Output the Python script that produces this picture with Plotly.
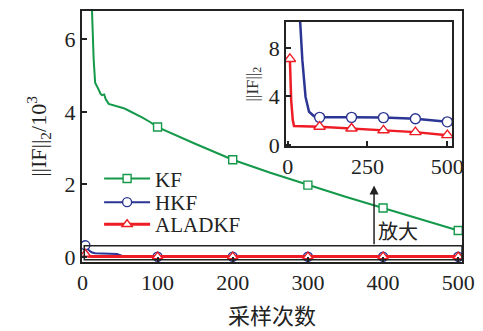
import plotly.graph_objects as go

# ---- data ----
kf_x = [10, 13, 15, 17, 20, 22, 24, 26, 29, 31, 35, 40, 45, 50, 55, 60, 70, 80, 90, 100,
        150, 200, 250, 300, 350, 400, 450, 500]
kf_y = [8.5, 6.6, 5.45, 4.8, 4.7, 4.6, 4.5, 4.46, 4.48, 4.35, 4.22, 4.19, 4.17, 4.14, 4.1, 4.05,
        3.95, 3.84, 3.72, 3.58, 3.12, 2.68, 2.32, 1.98, 1.66, 1.35, 1.05, 0.73]
kf_mx = [100, 200, 300, 400, 500]
kf_my = [3.58, 2.68, 1.98, 1.35, 0.73]

hkf_x = [4, 6, 8, 10, 13, 17, 25, 35, 46, 55, 100, 200, 300, 400, 500]
hkf_y = [0.32, 0.25, 0.2, 0.16, 0.12, 0.1, 0.09, 0.09, 0.08, 0.01, 0.005, 0.005, 0.005, 0.005, 0.005]
hkf_mx = [4, 100, 200, 300, 400, 500]
hkf_my = [0.32, 0.005, 0.005, 0.005, 0.005, 0.005]

ala_x = [4, 8, 12, 100, 200, 300, 400, 500]
ala_y = [0.08, 0.02, 0.01, 0.01, 0.01, 0.01, 0.01, 0.01]
ala_mx = [4, 100, 200, 300, 400, 500]
ala_my = [0.08, 0.01, 0.01, 0.01, 0.01, 0.01]

# inset (zoomed) values
hkf_in_x = [33, 38, 46, 56, 67, 82, 100, 200, 300, 400, 500]
hkf_in_y = [13.0, 10.2, 7.0, 3.96, 2.73, 2.38, 2.27, 2.27, 2.25, 2.15, 1.9]
hkf_in_mx = [100, 200, 300, 400, 500]
hkf_in_my = [2.27, 2.27, 2.25, 2.15, 1.9]

ala_in_x = [7, 11, 16, 20, 100, 200, 300, 400, 500]
ala_in_y = [7.1, 3.7, 2.05, 1.56, 1.5, 1.35, 1.2, 1.05, 0.8]
ala_in_mx = [7, 100, 200, 300, 400, 500]
ala_in_my = [7.1, 1.5, 1.35, 1.2, 1.05, 0.8]

x_ticks = [0, 100, 200, 300, 400, 500]
y_ticks = [0, 2, 4, 6]
xin_ticks = [0, 250, 500]
yin_ticks = [0, 4, 8]

GREEN = "#14994a"
BLUE = "#2b3593"
RED = "#ee1c25"
SERIF = "Liberation Serif, Times New Roman, serif"
CJK = "Liberation Serif, Noto Sans CJK SC, serif"

fig = go.Figure()

def marker(color, symbol, ms):
    return dict(symbol=symbol, size=ms, color="white", line=dict(color=color, width=1.4))

def add_series(x, y, mx, my, color, symbol, name, xa, ya, lw, ms, legend=None):
    fig.add_trace(go.Scatter(x=x, y=y, mode="lines", line=dict(color=color, width=lw),
                             xaxis=xa, yaxis=ya, showlegend=False, hoverinfo="skip"))
    fig.add_trace(go.Scatter(x=mx, y=my, mode="markers", marker=marker(color, symbol, ms),
                             xaxis=xa, yaxis=ya, showlegend=False, hoverinfo="skip"))
    if legend:
        fig.add_trace(go.Scatter(x=[None], y=[None], mode="lines+markers", name=name,
                                 line=dict(color=color, width=lw),
                                 marker=marker(color, symbol, ms),
                                 xaxis=xa, yaxis=ya, legend=legend))

add_series(kf_x, kf_y, kf_mx, kf_my, GREEN, "square", "KF", "x", "y", 2, 8, "legend")
add_series(hkf_x, hkf_y, hkf_mx, hkf_my, BLUE, "circle", "HKF", "x", "y", 2, 9, "legend2")
add_series(ala_x, ala_y, ala_mx, ala_my, RED, "triangle-up", "ALADKF", "x", "y", 3, 9, "legend3")

add_series(hkf_in_x, hkf_in_y, hkf_in_mx, hkf_in_my, BLUE, "circle", "HKF", "x2", "y2", 2.5, 10)
add_series(ala_in_x, ala_in_y, ala_in_mx, ala_in_my, RED, "triangle-up", "ALADKF", "x2", "y2", 2.5, 10)

axis_common = dict(showline=True, linecolor="#222", linewidth=2, mirror=True,
                   ticks="inside", ticklen=5, tickwidth=1.5, tickcolor="#222",
                   showgrid=False, zeroline=False, automargin=False,
                   tickfont=dict(family=SERIF, size=22, color="#222"))

def legend_at(yc):
    return dict(x=0.045, y=yc, xanchor="left", yanchor="middle",
                bgcolor="rgba(0,0,0,0)", font=dict(family=SERIF, size=21, color="#222"),
                itemwidth=46)

# page body has an 8px margin, so the figure is sized/offset to compensate
fig.update_layout(
    width=475, height=323,
    margin=dict(l=74, r=21, t=3, b=69, autoexpand=False),
    paper_bgcolor="white", plot_bgcolor="white",
    xaxis=dict(range=[-0.5, 505], tickvals=x_ticks, domain=[0, 1],
               title=dict(text="采样次数", font=dict(family=CJK, size=22, color="#222"), standoff=14),
               **axis_common),
    yaxis=dict(range=[-0.14, 6.78], tickvals=y_ticks, domain=[0, 1],
               title=dict(text="||IF||<sub>2</sub>/10<sup>3</sup>",
                          font=dict(family=SERIF, size=22, color="#222"), standoff=12),
               **axis_common),
    xaxis2=dict(range=[-5, 515], tickvals=xin_ticks, domain=[0.537, 0.974], anchor="y2",
                **axis_common),
    yaxis2=dict(range=[-0.1, 10.15], tickvals=yin_ticks, domain=[0.462, 0.956], anchor="x2",
                title=dict(text="||IF||<sub>2</sub>", font=dict(family=SERIF, size=17, color="#333"),
                           standoff=6),
                **axis_common),
    legend=legend_at(0.331),
    legend2=legend_at(0.237),
    legend3=legend_at(0.149),
    showlegend=True,
)

# zoom box and arrow
fig.add_shape(type="rect", xref="x", yref="y", x0=2.5, x1=505, y0=-0.08, y1=0.31,
              line=dict(color="#222", width=1.5))
fig.add_annotation(x=388, y=1.97, ax=388, ay=0.31, xref="x", yref="y", axref="x", ayref="y",
                   text="", showarrow=True, arrowhead=2, arrowsize=1.2, arrowwidth=1.5,
                   arrowcolor="#222")
fig.add_annotation(x=420, y=0.70, xref="x", yref="y", text="放大", showarrow=False,
                   font=dict(family=CJK, size=20, color="#222"))

fig.write_html("out.html")
